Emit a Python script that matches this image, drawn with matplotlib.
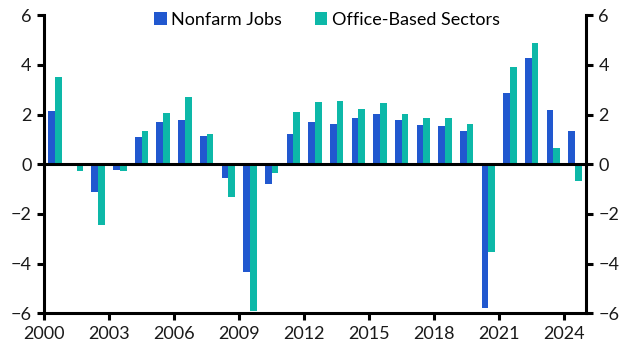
import numpy as np
import matplotlib
matplotlib.use("Agg")
import matplotlib.pyplot as plt

plt.rcParams['font.family'] = ['Lato', 'DejaVu Sans']

# Annual % change, 2000-2024
years = list(range(2000, 2025))
nonfarm = [2.13, 0.0, -1.13, -0.22, 1.08, 1.68, 1.76, 1.12, -0.56, -4.35,
           -0.78, 1.20, 1.68, 1.60, 1.84, 2.04, 1.76, 1.56, 1.52, 1.32,
           -5.80, 2.85, 4.26, 2.17, 1.32]
office = [3.50, -0.28, -2.43, -0.28, 1.32, 2.07, 2.69, 1.20, -1.33, -5.90,
          -0.36, 2.09, 2.49, 2.53, 2.21, 2.45, 2.04, 1.84, 1.88, 1.60,
          -3.55, 3.90, 4.87, 0.67, -0.66]
xticks = [2000, 2003, 2006, 2009, 2012, 2015, 2018, 2021, 2024]

blue = '#2158CF'
teal = '#0DB8A8'

fig = plt.figure(figsize=(6.33, 3.59), dpi=100)
ax = fig.add_axes([0.0695, 0.127, 0.856, 0.831])

x = np.array(years) + 0.5
w = 0.31
ax.bar(x - w / 2, nonfarm, width=w, color=blue, label='Nonfarm Jobs')
ax.bar(x + w / 2, office, width=w, color=teal, label='Office-Based Sectors')

ax.axhline(0, color='black', lw=2.2, zorder=3)
ax.set_xlim(2000, 2025)
ax.set_ylim(-6, 6)
ax.set_xticks(xticks)
ax.set_yticks(range(-6, 7, 2))

for s in ['left', 'right', 'bottom']:
    ax.spines[s].set_linewidth(2.2)
ax.spines['top'].set_visible(False)

ax.tick_params(axis='both', direction='out', length=5, width=2.2,
               labelsize=13, colors='black', labelcolor='#1a1a1a')
ax.tick_params(axis='y', right=True, labelright=True, pad=4)
ax.tick_params(axis='x', pad=4)

ax.legend(loc='center', bbox_to_anchor=(0.522, 0.985), ncol=2, frameon=False,
          fontsize=13, handlelength=0.7, handleheight=0.7, handletextpad=0.25,
          columnspacing=1.8, borderpad=0, borderaxespad=0)

fig.savefig('out.png', dpi=100)
